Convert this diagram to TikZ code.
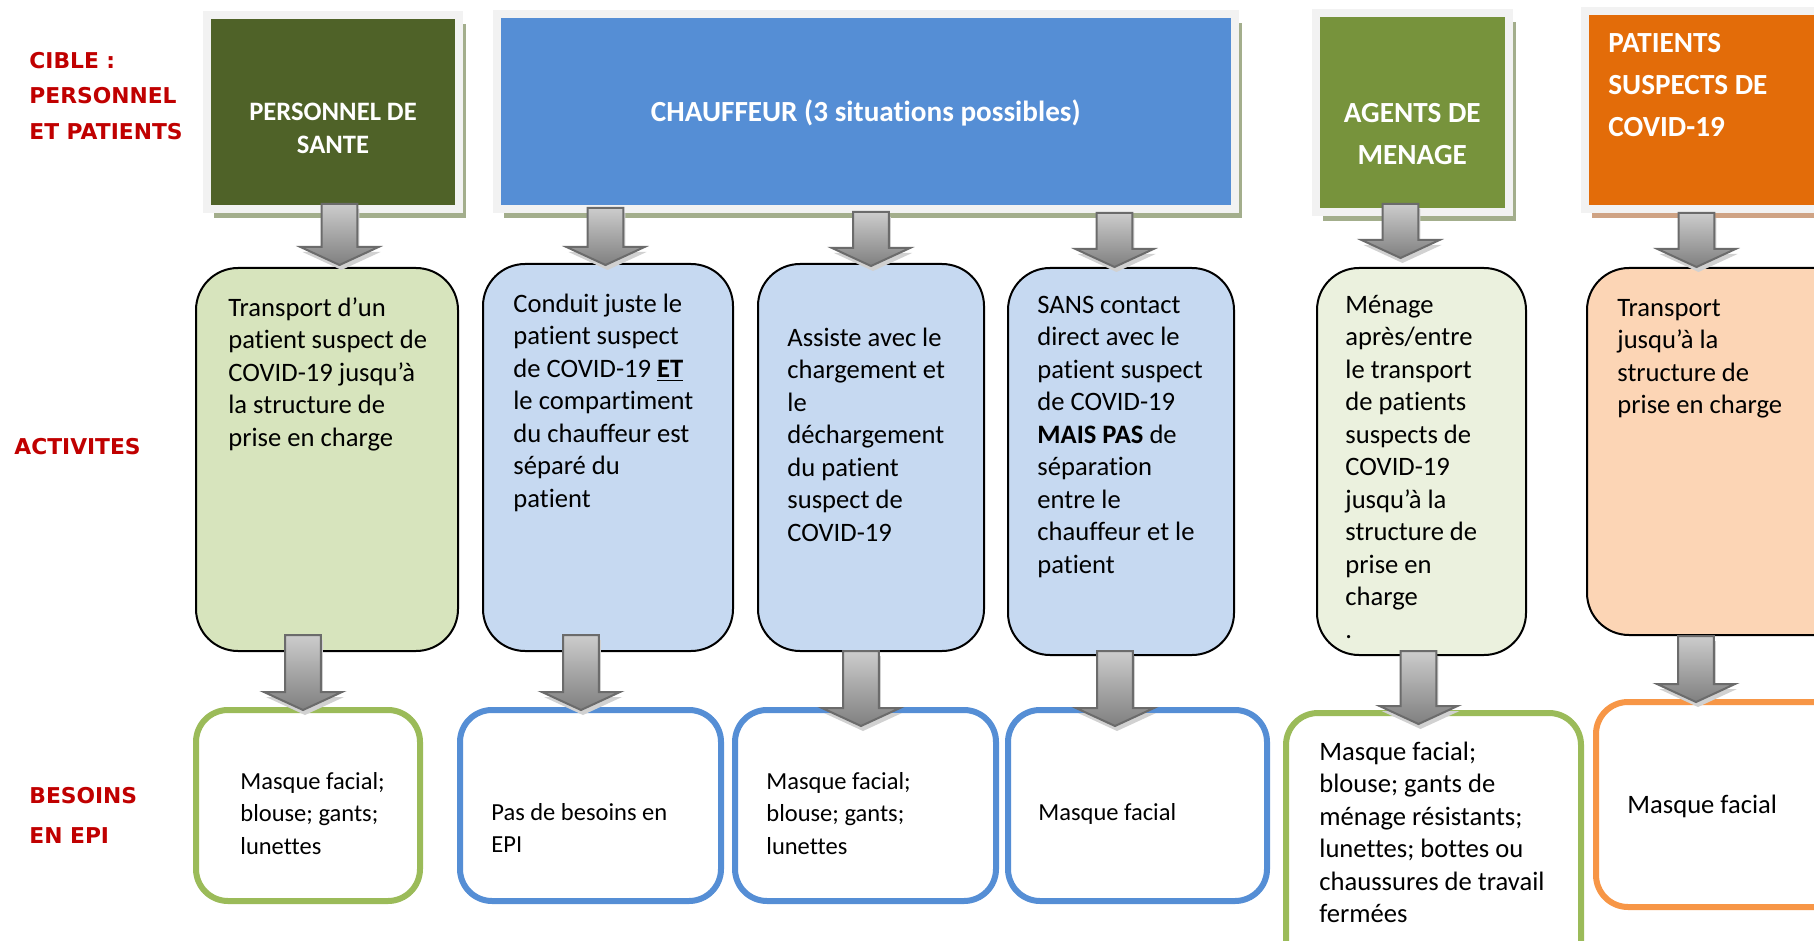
\documentclass[tikz,border=0pt]{standalone}
\usepackage{fontspec}
\setmainfont[Ligatures=NoCommon]{Carlito}
\newfontfamily\labelfont{DejaVu Sans}
\usetikzlibrary{calc,shadows}
\definecolor{santegreen}{HTML}{4F6228}
\definecolor{chauffblue}{HTML}{558ED5}
\definecolor{menagegreen}{HTML}{77933C}
\definecolor{patientorange}{HTML}{E36C09}
\definecolor{framegray}{HTML}{F2F2F2}
\definecolor{shadowgreen}{HTML}{A3AE8C}
\definecolor{shadowbrown}{HTML}{CFA384}
\definecolor{actgreen}{HTML}{D7E4BD}
\definecolor{actblue}{HTML}{C6D9F1}
\definecolor{actlight}{HTML}{EBF1DE}
\definecolor{actpeach}{HTML}{FCD5B5}
\definecolor{needgreen}{HTML}{9BBB59}
\definecolor{needblue}{HTML}{558ED5}
\definecolor{needorange}{HTML}{F79646}
\definecolor{labelred}{HTML}{C00000}
\tikzset{
    x=0.5pt, y=-0.5pt,
    chart/.style={
        head/.append style={draw=framegray,line width=4pt,inner sep=0pt,outer sep=0pt},
        greenshade/.append style={general shadow={fill=shadowgreen,shadow xshift=3.5pt,shadow yshift=-4.5pt}},
        orangeshade/.append style={general shadow={fill=shadowbrown,shadow xshift=3.5pt,shadow yshift=-4.5pt}},
        headtext/.append style={text=white,inner sep=0pt,font=\bfseries\fontsize{14.6}{21}\selectfont},
        activity/.append style={draw=black,line width=1pt,rounded corners=21pt,inner sep=0pt,outer sep=0pt},
        acttext/.append style={anchor=north west,align=left,inner sep=0pt,font=\fontsize{13.3}{16.25}\selectfont},
        need/.append style={draw,line width=3pt,fill=white,rounded corners=16pt,inner sep=0pt,outer sep=0pt},
        needtext/.append style={anchor=north west,align=left,inner sep=0pt,font=\fontsize{12.25}{16.25}\selectfont},
        rowlabel/.append style={anchor=north west,align=left,inner sep=0pt,text=labelred,font=\labelfont\bfseries\fontsize{10.9}{17.75}\selectfont},
        flow/.append style={draw=black!58,line width=1pt,top color=black!20,bottom color=black!50,
            general shadow={fill=black!18,shadow xshift=1pt,shadow yshift=-2.5pt}}
    }
}
% block arrow: x, from, to, rise into source, sink into target
\newcommand{\flowarrow}[5]{%
    \path (#1,0 |- #2.south) ++(0,{-(#4)}) coordinate (flowtop)
          (#1,0 |- #3.north) ++(0,{#5}) coordinate (flowtip);
    \draw[flow] let \p1=(flowtop), \p2=(flowtip) in
        (\x1-8.9pt,\y1) -- (\x1+8.9pt,\y1) -- (\x1+8.9pt,\y2+9pt) -- (\x1+19.5pt,\y2+9pt)
        -- (\x1,\y2) -- (\x1-19.5pt,\y2+9pt) -- (\x1-8.9pt,\y2+9pt) -- cycle;
}
\begin{document}
\begin{tikzpicture}[chart]
    \useasboundingbox (0,0) rectangle (1814,941);
    \clip (0,0) rectangle (1814,941);

    % row labels
    \node[rowlabel] (cible) at (29,43) {\strut CIBLE :\\PERSONNEL\\ET PATIENTS};
    \node[rowlabel,anchor=base west] (activites) at (14,454) {ACTIVITES};
    \node[rowlabel,font=\labelfont\bfseries\fontsize{10.9}{20}\selectfont] (besoins) at (29,775) {\strut BESOINS\\EN EPI};

    % targets
    \node[head,greenshade,fill=santegreen,minimum width=126pt,minimum height=96.75pt] (sante) at (333,112.25) {};
    \node[head,greenshade,fill=chauffblue,minimum width=368.75pt,minimum height=97.5pt] (chauffeur) at (865.75,111.5) {};
    \node[head,greenshade,fill=menagegreen,minimum width=96.25pt,minimum height=99.25pt] (menage) at (1412.25,112.75) {};
    \node[head,orangeshade,fill=patientorange,minimum width=157.75pt,minimum height=99pt] (patients) at (1742.25,110) {};

    \node[headtext,anchor=north,align=center,font=\bfseries\fontsize{13.3}{16.5}\selectfont] (santetxt) at (333,97) {\strut PERSONNEL DE\\SANTE};
    \node[headtext,anchor=base] (chauffeurtxt) at (865.75,122) {CHAUFFEUR (3 situations possibles)};
    \node[headtext,anchor=north,align=center] (menagetxt) at (1412.25,93) {\strut AGENTS DE\\MENAGE};
    \node[headtext,anchor=north west,align=left] (patientstxt) at (1608,23) {\strut PATIENTS\\SUSPECTS DE\\COVID-19};

    % activities
    \node[activity,fill=actgreen,minimum width=131pt,minimum height=191.5pt] (actsante) at (327,459.5) {};
    \node[activity,fill=actblue,minimum width=125pt,minimum height=193.5pt] (actconduit) at (608,457.5) {};
    \node[activity,fill=actblue,minimum width=113pt,minimum height=193.5pt] (actassiste) at (871,457.5) {};
    \node[activity,fill=actblue,minimum width=113pt,minimum height=193.5pt] (actsans) at (1121,461.5) {};
    \node[activity,fill=actlight,minimum width=104.5pt,minimum height=193.5pt] (actmenage) at (1421.5,461.5) {};
    \node[activity,fill=actpeach,minimum width=156pt,minimum height=183.5pt] (actpatient) at (1743,451.5) {};

    \node[acttext] (actsantetxt) at (228,293) {\strut Transport d’un\\patient suspect de\\COVID-19 jusqu’à\\la structure de\\prise en charge};
    \node[acttext] (actconduittxt) at (513,289) {\strut Conduit juste le\\patient suspect\\de COVID-19 \underline{\textbf{ET}}\\le compartiment\\du chauffeur est\\séparé du\\patient};
    \node[acttext] (actassistetxt) at (787,323) {\strut Assiste avec le\\chargement et\\le\\déchargement\\du patient\\suspect de\\COVID-19};
    \node[acttext] (actsanstxt) at (1037,290) {\strut SANS contact\\direct avec le\\patient suspect\\de COVID-19\\\textbf{MAIS PAS} de\\séparation\\entre le\\chauffeur et le\\patient};
    \node[acttext] (actmenagetxt) at (1345,290) {\strut Ménage\\après/entre\\le transport\\de patients\\suspects de\\COVID-19\\jusqu’à la\\structure de\\prise en\\charge\\.};
    \node[acttext] (actpatienttxt) at (1617,293) {\strut Transport\\jusqu’à la\\structure de\\prise en charge};

    % needs
    \node[need,draw=needgreen,minimum width=112pt,minimum height=95.5pt] (needsante) at (308,805.5) {};
    \node[need,draw=needblue,minimum width=130.5pt,minimum height=95.5pt] (needconduit) at (590.5,805.5) {};
    \node[need,draw=needblue,minimum width=130.5pt,minimum height=95.5pt] (needassiste) at (865.5,805.5) {};
    \node[need,draw=needblue,minimum width=129.5pt,minimum height=95.5pt] (needsans) at (1137.5,805.5) {};
    \node[need,draw=needgreen,minimum width=147.5pt,minimum height=143.5pt] (needmenage) at (1433.5,856.5) {};
    \node[need,draw=needorange,minimum width=152pt,minimum height=102.5pt] (needpatient) at (1748,804.5) {};

    \node[needtext] (needsantetxt) at (240,766) {\strut Masque facial;\\blouse; gants;\\lunettes};
    \node[needtext] (needconduittxt) at (491,797) {\strut Pas de besoins en\\EPI};
    \node[needtext] (needassistetxt) at (766,766) {\strut Masque facial;\\blouse; gants;\\lunettes};
    \node[needtext] (needsanstxt) at (1038,797) {\strut Masque facial};
    \node[needtext,font=\fontsize{13.3}{16.25}\selectfont] (needmenagetxt) at (1319,737) {\strut Masque facial;\\blouse; gants de\\ménage résistants;\\lunettes; bottes ou\\chaussures de travail\\fermées};
    \node[needtext,font=\fontsize{13.3}{16.25}\selectfont] (needpatienttxt) at (1627,790) {\strut Masque facial};

    % arrows
    \flowarrow{339.5}{sante}{actsante}{5}{-3}
    \flowarrow{605.5}{chauffeur}{actconduit}{1}{1}
    \flowarrow{871}{chauffeur}{actassiste}{-3}{2}
    \flowarrow{1114.5}{chauffeur}{actsans}{-4}{-1}
    \flowarrow{1400.5}{menage}{actmenage}{8}{-10}
    \flowarrow{1696.5}{patients}{actpatient}{-4}{-1}
    \flowarrow{303}{actsante}{needsante}{16}{0}
    \flowarrow{581}{actconduit}{needconduit}{16}{0}
    \flowarrow{861}{actassiste}{needassiste}{0}{16}
    \flowarrow{1115}{actsans}{needsans}{4}{16}
    \flowarrow{1418.5}{actmenage}{needmenage}{4}{11}
    \flowarrow{1696}{actpatient}{needpatient}{-1}{0}
\end{tikzpicture}
\end{document}
